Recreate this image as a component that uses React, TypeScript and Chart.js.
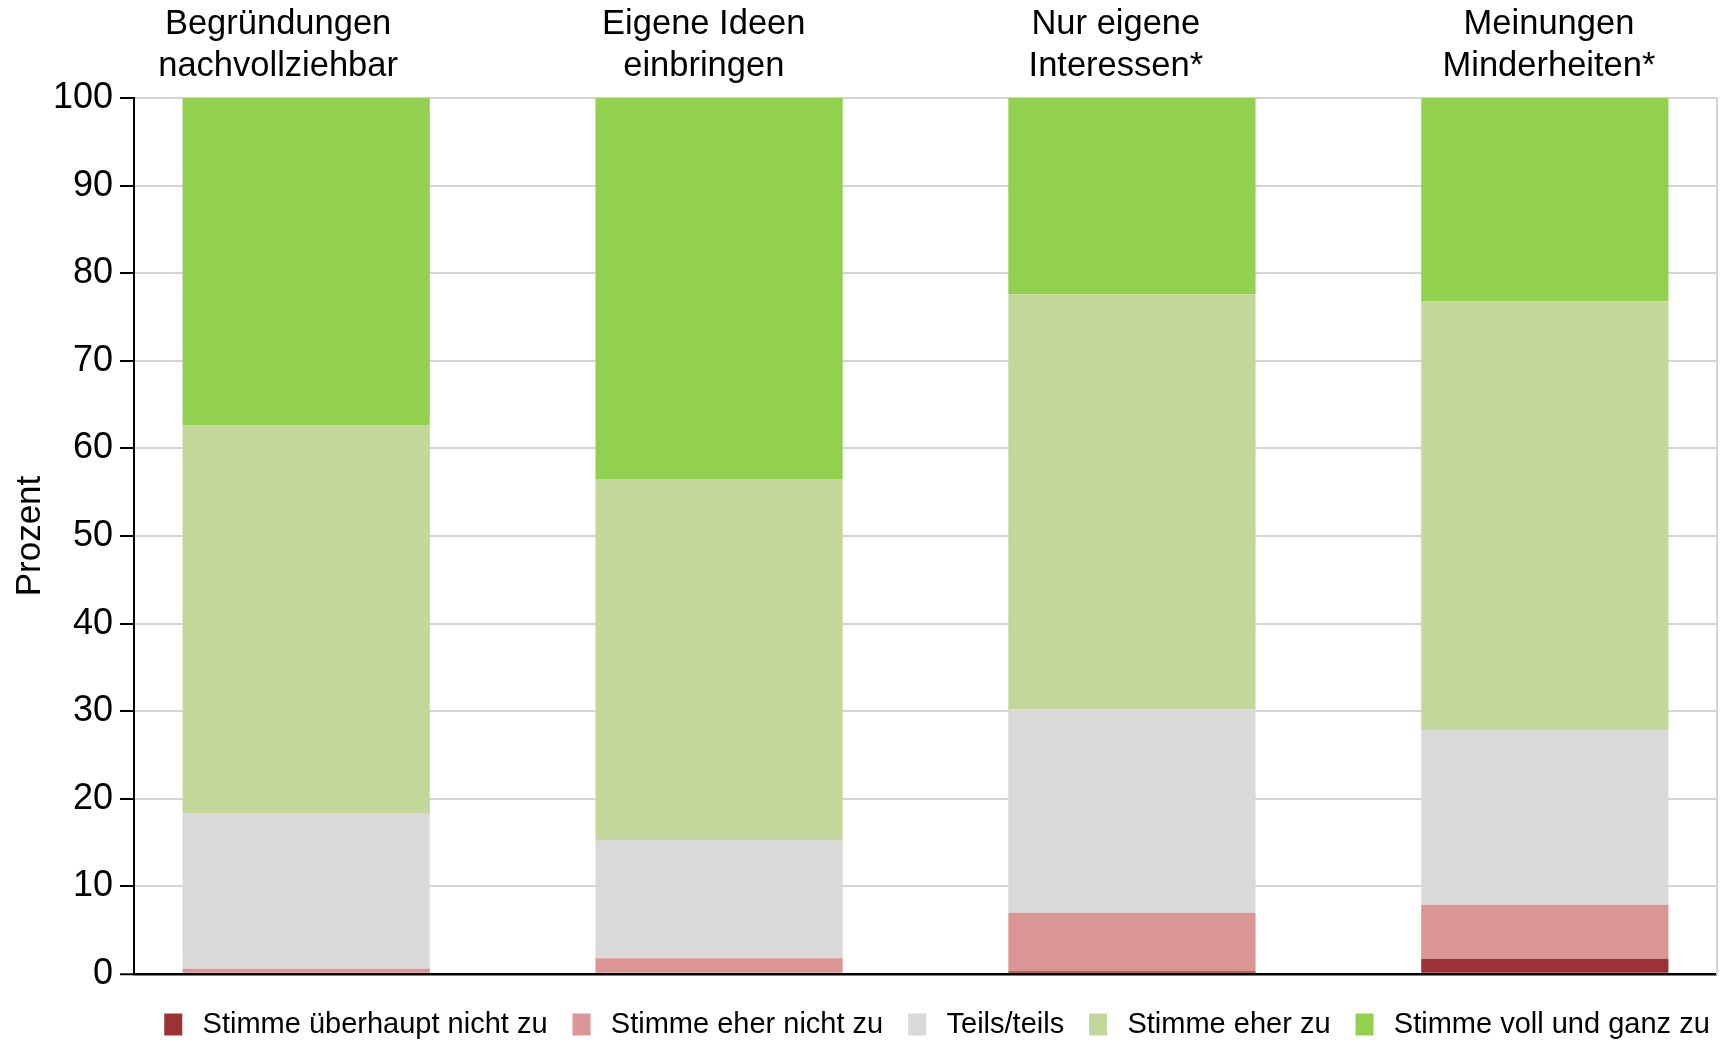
import React, { useEffect, useRef } from 'react';
import { Chart, registerables } from 'chart.js';

Chart.register(...registerables);

// ---- data ----
const CATEGORIES: string[][] = [
  ['Begründungen', 'nachvollziehbar'],
  ['Eigene Ideen', 'einbringen'],
  ['Nur eigene', 'Interessen*'],
  ['Meinungen', 'Minderheiten*'],
];

const SERIES_LABELS = [
  'Stimme überhaupt nicht zu',
  'Stimme eher nicht zu',
  'Teils/teils',
  'Stimme eher zu',
  'Stimme voll und ganz zu',
];

const STIMME_UEBERHAUPT_NICHT = [0, 0, 0.3, 1.7];
const STIMME_EHER_NICHT = [0.6, 1.8, 6.7, 6.2];
const TEILS_TEILS = [17.7, 13.5, 23.2, 19.9];
const STIMME_EHER = [44.3, 41.2, 47.4, 49.0];
const STIMME_VOLL = [37.4, 43.5, 22.4, 23.2];

const Y_MIN = 0;
const Y_MAX = 100;
const Y_STEP = 10;

// ---- styling ----
const COLORS = ['#9b3335', '#da9695', '#d9d9d9', '#c4d79b', '#92d050'];
const FONT = "'Liberation Sans', Arial, Helvetica, sans-serif";
const GRID = '#d4d4d4';
// horizontal nudges of the category captions (in category units)
const LABEL_NUDGE = [-0.068, -0.037, -0.039, 0.01];

const SERIES = [STIMME_UEBERHAUPT_NICHT, STIMME_EHER_NICHT, TEILS_TEILS, STIMME_EHER, STIMME_VOLL];

const legendShift = {
  id: 'legendShift',
  afterLayout(chart: any) {
    const l = chart.legend;
    if (!l) return;
    l.left += 76;
    l.right += 76;
    l.top += 11;
    l.bottom += 11;
  },
};

export default function App() {
  const ref = useRef<HTMLCanvasElement>(null);

  useEffect(() => {
    document.body.style.margin = '0';
    document.body.style.overflow = 'hidden';
    Chart.defaults.font.family = FONT;
    Chart.defaults.color = '#000';

    const datasets = SERIES.map((vals, s) => ({
      label: SERIES_LABELS[s],
      data: vals.map((v, i) => ({ x: i, y: v })),
      backgroundColor: COLORS[s],
      borderWidth: 0,
      barPercentage: 0.6,
      categoryPercentage: 1,
    }));

    const chart = new Chart(ref.current as HTMLCanvasElement, {
      type: 'bar',
      data: { datasets },
      plugins: [legendShift],
      options: {
        responsive: false,
        animation: false,
        layout: { padding: { top: 0, left: 0, right: 0, bottom: 4 } },
        plugins: {
          tooltip: { enabled: false },
          legend: {
            position: 'bottom',
            labels: {
              color: '#000',
              font: { size: 29, family: FONT },
              boxWidth: 18,
              boxHeight: 22,
              padding: 25,
              generateLabels: (c: any) => {
                const items = Chart.defaults.plugins.legend.labels.generateLabels(c);
                return items.map((it: any) => ({ ...it, text: '\u2009' + it.text, lineWidth: 0 }));
              },
            },
          },
        },
        scales: {
          x: {
            type: 'linear',
            position: 'top',
            stacked: true,
            min: -0.417,
            max: CATEGORIES.length - 1 + 0.417,
            offset: false,
            grid: { display: false, drawTicks: false },
            border: { display: false },
            afterBuildTicks: (scale: any) => {
              scale.ticks = CATEGORIES.map((_, i) => ({ value: i + LABEL_NUDGE[i] }));
            },
            afterFit: (scale: any) => {
              scale.height = 98;
            },
            ticks: {
              autoSkip: false,
              maxRotation: 0,
              padding: 10,
              color: '#000',
              font: { size: 34.5, family: FONT, lineHeight: 1.23 },
              callback: (_v: any, index: number) => CATEGORIES[index],
            },
          },
          y: {
            type: 'linear',
            position: 'left',
            stacked: true,
            min: Y_MIN,
            max: Y_MAX,
            ticks: {
              stepSize: Y_STEP,
              padding: 7,
              color: '#000',
              font: { size: 36, family: FONT },
            },
            grid: {
              color: (ctx: any) => (ctx.tick && ctx.tick.value === 0 ? '#000' : GRID),
              lineWidth: (ctx: any) => (ctx.tick && ctx.tick.value === 0 ? 2.5 : 2),
              tickColor: '#000',
              tickWidth: 2,
              tickLength: 14,
              drawTicks: true,
            },
            border: { display: true, color: '#000', width: 2 },
            title: {
              display: true,
              text: 'Prozent',
              color: '#000',
              font: { size: 35, family: FONT },
              padding: { top: 9, bottom: 0 },
            },
            afterFit: (scale: any) => {
              scale.width = 134;
            },
          },
          yRight: {
            type: 'linear',
            position: 'right',
            display: true,
            min: Y_MIN,
            max: Y_MAX,
            grid: { display: false, drawTicks: false },
            ticks: { display: false },
            border: { display: true, color: GRID, width: 2 },
            afterFit: (scale: any) => {
              scale.width = 5;
            },
          },
        },
      } as any,
    });

    return () => chart.destroy();
  }, []);

  return (
    <div style={{ width: 1722, height: 1042 }}>
      <canvas ref={ref} width={1722} height={1042} style={{ display: 'block' }} />
    </div>
  );
}
